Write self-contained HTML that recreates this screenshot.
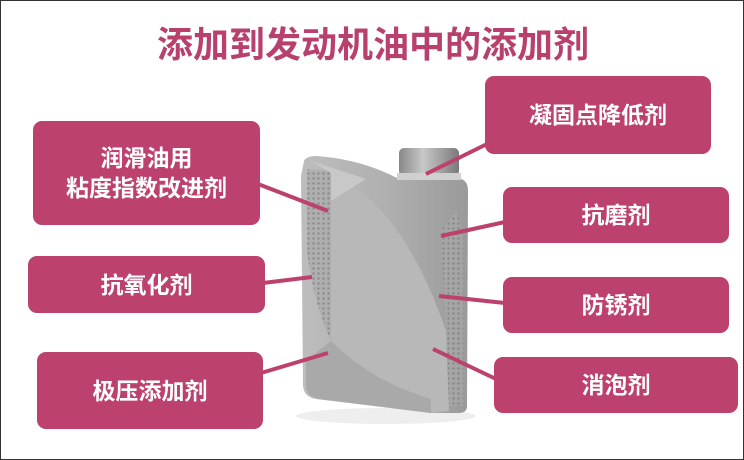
<!DOCTYPE html>
<html><head><meta charset="utf-8"><style>
html,body{margin:0;padding:0;background:#fff}
#c{position:relative;width:742px;height:458px;border:1px solid #333;overflow:hidden;background:#fff;font-family:"Liberation Sans","Noto Sans CJK SC",sans-serif}
.t{position:absolute;left:0;width:744px;top:15px;text-align:center;font-size:36px;font-weight:bold;color:#b8406e;letter-spacing:0px}
.b{position:absolute;background:#bc416e;border-radius:9px;color:#fff;font-weight:bold;font-size:23px;display:flex;align-items:center;justify-content:center;text-align:center;line-height:30px}
svg{position:absolute;left:0;top:0}
</style></head><body><div id="c">
<div class="t">添加到发动机油中的添加剂</div>
<svg width="744" height="460">
<defs>
<linearGradient id="g" x1="0" x2="1"><stop offset="0" stop-color="#bdbdbd"/><stop offset=".5" stop-color="#b0b0b0"/><stop offset="1" stop-color="#9a9a9a"/></linearGradient>
<linearGradient id="cap" x1="0" x2="1"><stop offset="0" stop-color="#888"/><stop offset=".4" stop-color="#c8c8c8"/><stop offset="1" stop-color="#7a7a7a"/></linearGradient>
<pattern id="d" width="5" height="5" patternUnits="userSpaceOnUse"><rect width="5" height="5" fill="#aaa"/><circle cx="2.5" cy="2.5" r="1.2" fill="#777"/></pattern>
</defs>
<ellipse cx="385" cy="415" rx="90" ry="8" fill="#eee"/>
<path d="M303,160 Q305,155 315,155 Q360,158 398,178 L460,178 Q467,180 467,190 L466,405 Q466,412 458,412 L430,412 L315,398 Q303,396 302,385 L300,175 Z" fill="url(#g)"/>
<path d="M306,168 L330,170 L330,340 Q312,300 306,250 Z" fill="url(#d)" opacity=".7"/>
<path d="M440,230 L455,210 L462,230 L462,405 L448,405 L445,330 Z" fill="url(#d)" opacity=".6"/>
<path d="M330,175 Q400,200 445,330 L448,410 L430,412 Q360,370 330,340 Z" fill="#b8b8b8"/>
<path d="M310,160 L365,178 L330,200 L330,172 Z" fill="#c8c8c8"/>
<path d="M330,340 Q370,380 430,398 L430,412 L318,398 Q305,395 305,385 L305,360 Z" fill="#a9a9a9"/>
<rect x="398" y="147" width="60" height="28" rx="5" fill="url(#cap)"/>
<rect x="396" y="172" width="64" height="7" fill="#d0d0d0"/>
<g stroke="#bc416e" stroke-width="4" stroke-linecap="butt">
<line x1="486" y1="143" x2="425" y2="173"/>
<line x1="257" y1="183" x2="327" y2="210"/>
<line x1="262" y1="282" x2="311" y2="276"/>
<line x1="260" y1="372" x2="327" y2="352"/>
<line x1="504" y1="221" x2="440" y2="235"/>
<line x1="504" y1="302" x2="438" y2="295"/>
<line x1="495" y1="378" x2="432" y2="348"/>
</g>
</svg>
<div class="b" style="left:484px;top:75px;width:226px;height:78px">凝固点降低剂</div>
<div class="b" style="left:32px;top:120px;width:227px;height:104px">润滑油用<br>粘度指数改进剂</div>
<div class="b" style="left:502px;top:186px;width:226px;height:56px">抗磨剂</div>
<div class="b" style="left:27px;top:255px;width:237px;height:57px">抗氧化剂</div>
<div class="b" style="left:502px;top:276px;width:226px;height:56px">防锈剂</div>
<div class="b" style="left:36px;top:351px;width:226px;height:77px">极压添加剂</div>
<div class="b" style="left:493px;top:356px;width:244px;height:56px">消泡剂</div>
</div></body></html>
